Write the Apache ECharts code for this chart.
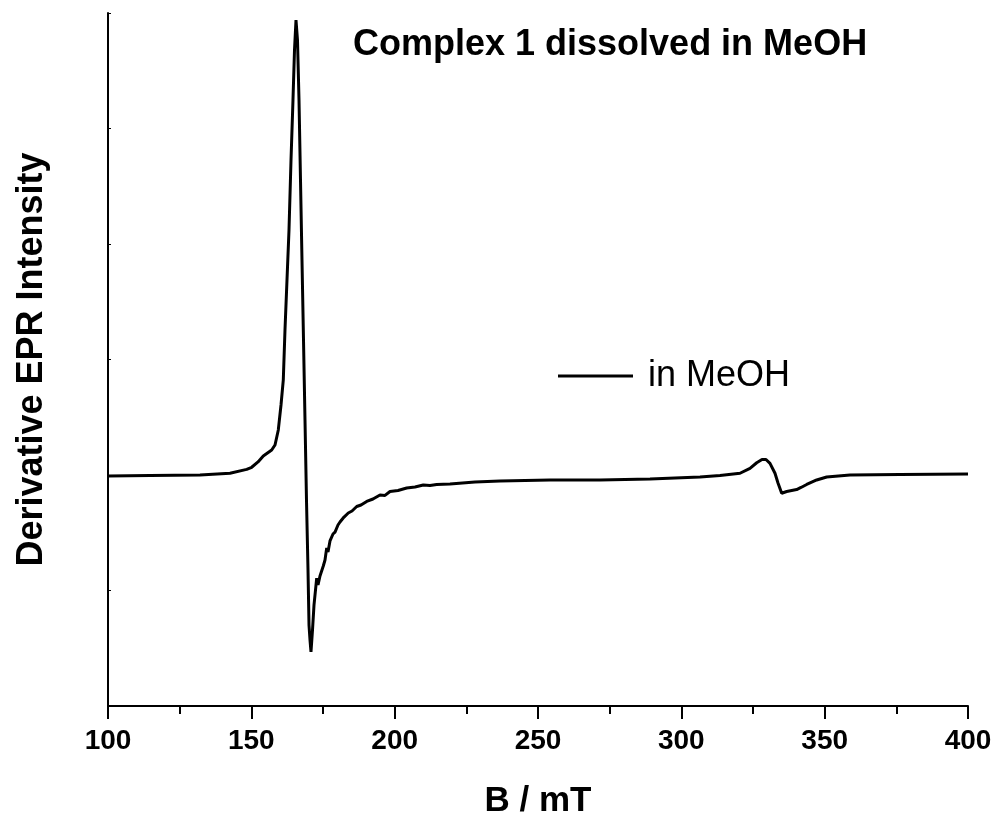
<!DOCTYPE html>
<html>
<head>
<meta charset="utf-8">
<script src="https://cdn.jsdelivr.net/npm/echarts@6/dist/echarts.min.js"></script>
<style>
html,body{margin:0;padding:0;background:#fff;}
#c{width:997px;height:817px;}
</style>
</head>
<body>
<div id="c"></div>
<script>
// Magnetic field (mT)
const fieldB = [100, 114.65, 132.09, 142.56, 148.38, 150.13, 152.33, 154.17, 157.10, 158.26, 159.41, 160.35, 161.15, 161.74, 162.44, 163.14, 163.84, 164.53, 165.06, 165.58, 166.10, 166.63, 167.15, 167.67, 168.20, 168.72, 169.24, 169.77, 170.12, 170.47, 170.81, 171.34, 171.86, 172.80, 173.26, 173.95, 175.10, 175.70, 176.29, 176.74, 177.44, 178.49, 179.19, 180.23, 180.93, 182.33, 183.82, 185.12, 186.76, 188.26, 190.24, 192.44, 194.88, 196.63, 198.37, 201.16, 204.20, 207.09, 209.99, 212.33, 214.66, 219.30, 228.02, 236.74, 254.19, 271.63, 289.07, 306.51, 313.49, 320.47, 323.95, 326.29, 328.14, 329.53, 330.93, 332.67, 333.72, 335.01, 336.76, 340.23, 341.74, 343.73, 347.22, 350.71, 358.84, 376.28, 400];
// Derivative EPR intensity (arb. units)
const intensity = [1.991, 1.996, 2.0, 2.015, 2.049, 2.067, 2.113, 2.165, 2.216, 2.260, 2.390, 2.606, 2.823, 3.255, 3.688, 4.121, 4.727, 5.247, 5.680, 5.939, 5.766, 5.247, 4.554, 3.861, 3.169, 2.476, 1.784, 1.177, 0.701, 0.571, 0.468, 0.658, 0.874, 1.108, 1.048, 1.126, 1.212, 1.264, 1.368, 1.333, 1.429, 1.489, 1.506, 1.567, 1.593, 1.636, 1.671, 1.688, 1.727, 1.740, 1.771, 1.792, 1.827, 1.823, 1.857, 1.866, 1.887, 1.896, 1.913, 1.909, 1.918, 1.922, 1.939, 1.948, 1.957, 1.957, 1.965, 1.983, 1.996, 2.015, 2.058, 2.106, 2.134, 2.134, 2.101, 2.015, 1.931, 1.842, 1.857, 1.874, 1.892, 1.918, 1.957, 1.983, 2.0, 2.004, 2.009];
const seriesName = 'in MeOH';
const titleText = 'Complex 1 dissolved in MeOH';
const xTitle = 'B / mT';
const yTitle = 'Derivative EPR Intensity';

const chart = echarts.init(document.getElementById('c'));
const FONT = '"Liberation Sans", Arial, sans-serif';
chart.setOption({
  animation: false,
  backgroundColor: '#fff',
  title: {
    text: titleText, left: 348, top: 22,
    textStyle: {fontFamily: FONT, fontSize: 36, fontWeight: 'bold', color: '#000'}
  },
  legend: {
    data: [seriesName], left: 558, top: 358, padding: 0, icon: 'rect', itemWidth: 75, itemHeight: 3,
    textStyle: {fontFamily: FONT, fontSize: 36, color: '#000', padding: [0, 0, 0, 10]}
  },
  grid: {left: 108, right: 29, top: 13, bottom: 111, containLabel: false, outerBoundsMode: 'none'},
  xAxis: {
    type: 'value', min: 100, max: 400, interval: 50,
    name: xTitle, nameLocation: 'middle', nameGap: 78,
    nameTextStyle: {fontFamily: FONT, fontSize: 35, fontWeight: 'bold', color: '#000'},
    axisLine: {show: true, lineStyle: {color: '#000', width: 2}},
    axisTick: {show: true, length: 13, lineStyle: {color: '#000', width: 2}},
    minorTick: {show: true, splitNumber: 2, length: 8, lineStyle: {color: '#000', width: 2}},
    axisLabel: {fontFamily: FONT, fontSize: 28, fontWeight: 'bold', color: '#000', margin: 21},
    splitLine: {show: false}
  },
  yAxis: {
    type: 'value', min: 0, max: 6, interval: 1,
    name: yTitle, nameLocation: 'middle', nameGap: 58,
    nameTextStyle: {fontFamily: FONT, fontSize: 36, fontWeight: 'bold', color: '#000'},
    axisLine: {show: true, lineStyle: {color: '#000', width: 2}},
    axisTick: {show: true, inside: true, length: 3, lineStyle: {color: '#000', width: 1}},
    axisLabel: {show: false},
    splitLine: {show: false}
  },
  series: [{
    name: seriesName, type: 'line', showSymbol: false, symbol: 'none',
    data: fieldB.map((b, i) => [b, intensity[i]]),
    lineStyle: {color: '#000', width: 3}, itemStyle: {color: '#000'}
  }]
});
</script>
</body>
</html>
